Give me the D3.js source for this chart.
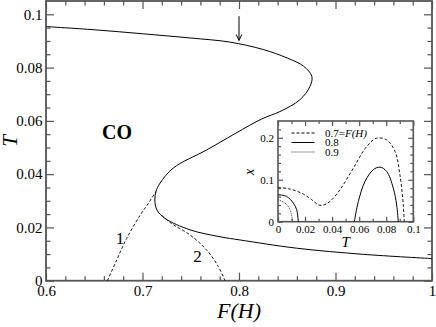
<!DOCTYPE html>
<html><head><meta charset="utf-8">
<script src="https://cdn.jsdelivr.net/npm/d3@7"></script>
<style>body{margin:0}</style></head>
<body>
<svg id="c" width="436" height="327"></svg>
<script>
// ---- Main plot data: F(H) vs T ----
const mainF = [0.6, 0.65, 0.70, 0.75, 0.79, 0.825, 0.85, 0.867, 0.8755, 0.8735, 0.863, 0.8425, 0.8235, 0.7665, 0.7319, 0.7181, 0.7140, 0.7128, 0.7150, 0.7233, 0.7492, 0.7803, 0.801, 0.8597, 0.9288, 1.0];
const mainT = [0.0954, 0.0942, 0.0927, 0.0911, 0.0896, 0.0868, 0.0836, 0.0805, 0.0767, 0.0729, 0.0679, 0.0635, 0.0607, 0.0491, 0.0423, 0.0366, 0.0335, 0.0303, 0.0265, 0.0234, 0.0191, 0.0165, 0.0153, 0.0122, 0.0099, 0.0083];
const line1F = [0.6636, 0.6733, 0.6836, 0.6974, 0.7060, 0.7140];
const line1T = [0.0, 0.0078, 0.0159, 0.0245, 0.0290, 0.0335];
const line2F = [0.7200, 0.7300, 0.7492, 0.7665, 0.7786, 0.7855];
const line2T = [0.0245, 0.0215, 0.0172, 0.0115, 0.0053, 0.0];
const xTicks = [0.6, 0.7, 0.8, 0.9, 1.0];
const xTickLabels = ["0.6", "0.7", "0.8", "0.9", "1"];
const yTicks = [0, 0.02, 0.04, 0.06, 0.08, 0.1];
const yTickLabels = ["0", "0.02", "0.04", "0.06", "0.08", "0.1"];

// ---- Inset data: T vs x ----
const in07T = [0.0, 0.0089, 0.0187, 0.0249, 0.0300, 0.0335, 0.0384, 0.0458, 0.0557, 0.0655, 0.0729, 0.0803, 0.0865, 0.0901, 0.0926, 0.0933];
const in07X = [0.0817, 0.0778, 0.0659, 0.0524, 0.0400, 0.0395, 0.0484, 0.0762, 0.1278, 0.1790, 0.1990, 0.1950, 0.1675, 0.1120, 0.0405, 0.0];
const in08aT = [0.0, 0.0064, 0.0113, 0.0138, 0.0150];
const in08aX = [0.0643, 0.0603, 0.0444, 0.0286, 0.0];
const in08bT = [0.0564, 0.0594, 0.0643, 0.0704, 0.0754, 0.0803, 0.0852, 0.0877, 0.0889];
const in08bX = [0.0, 0.0484, 0.0960, 0.1238, 0.1300, 0.1200, 0.0800, 0.0400, 0.0];
const in09T = [0.0, 0.0052, 0.0089, 0.0108];
const in09X = [0.0524, 0.0444, 0.0286, 0.0];
const inXTicks = [0, 0.02, 0.04, 0.06, 0.08, 0.1];
const inXTickLabels = ["0", "0.02", "0.04", "0.06", "0.08", "0.1"];
const inYTicks = [0, 0.1, 0.2];
const inYTickLabels = ["0", "0.1", "0.2"];
const legendLabels = ["0.7=", "0.8", "0.9"];

const svg = d3.select("#c");
const frameColor = "#555";
const SERIF = "Liberation Serif";

const L = 46, R = 432, T0 = 1, B = 280.7;
const x = d3.scaleLinear().domain([0.6, 1.0]).range([L, R]);
const y = d3.scaleLinear().domain([0, 0.105]).range([B, T0]);

function styleAxis(g) {
  g.attr("font-family", SERIF);
  g.select(".domain").remove();
  g.selectAll(".tick line").attr("stroke", frameColor).attr("stroke-width", 1.2);
  g.selectAll("text").attr("font-family", SERIF);
}

const xMinor = d3.range(0.62, 1.0, 0.02).filter(v => Math.abs(v*10 - Math.round(v*10)) > 1e-6);
const yMinor = d3.range(0.005, 0.105, 0.005).filter(v => Math.abs(v*50 - Math.round(v*50)) > 1e-6);

const gMain = svg.append("g");
gMain.append("g").attr("transform", `translate(0,${B})`)
  .call(d3.axisBottom(x).tickValues(xTicks).tickFormat((d,i)=>xTickLabels[i]).tickSize(-8).tickPadding(4.7))
  .call(styleAxis).call(g=>g.selectAll("text").attr("font-size",15).attr("fill","#000"));
gMain.append("g").attr("transform", `translate(0,${B})`)
  .call(d3.axisBottom(x).tickValues(xMinor).tickFormat("").tickSize(-4.5)).call(styleAxis);
gMain.append("g").attr("transform", `translate(0,${T0})`)
  .call(d3.axisTop(x).tickValues(xTicks).tickFormat("").tickSize(-8)).call(styleAxis);
gMain.append("g").attr("transform", `translate(0,${T0})`)
  .call(d3.axisTop(x).tickValues(xMinor).tickFormat("").tickSize(-4.5)).call(styleAxis);
gMain.append("g").attr("transform", `translate(${L},0)`)
  .call(d3.axisLeft(y).tickValues(yTicks).tickFormat((d,i)=>yTickLabels[i]).tickSize(-8).tickPadding(3.5))
  .call(styleAxis).call(g=>g.selectAll("text").attr("font-size",15).attr("fill","#000"));
gMain.append("g").attr("transform", `translate(${L},0)`)
  .call(d3.axisLeft(y).tickValues(yMinor).tickFormat("").tickSize(-4.5)).call(styleAxis);
gMain.append("g").attr("transform", `translate(${R},0)`)
  .call(d3.axisRight(y).tickValues(yTicks).tickFormat("").tickSize(-8)).call(styleAxis);
gMain.append("g").attr("transform", `translate(${R},0)`)
  .call(d3.axisRight(y).tickValues(yMinor).tickFormat("").tickSize(-4.5)).call(styleAxis);

svg.append("rect").attr("x", L).attr("y", T0).attr("width", R-L).attr("height", B-T0)
  .attr("fill","none").attr("stroke", frameColor).attr("stroke-width", 1.8);

const lineMain = d3.line().curve(d3.curveCatmullRom.alpha(0.5)).x(d=>x(d[0])).y(d=>y(d[1]));
svg.append("path").datum(mainF.map((f,i)=>[f, mainT[i]])).attr("d", lineMain)
  .attr("fill","none").attr("stroke","#000").attr("stroke-width",1);
svg.append("path").datum(line1F.map((f,i)=>[f, line1T[i]])).attr("d", lineMain)
  .attr("fill","none").attr("stroke","#000").attr("stroke-width",0.9).attr("stroke-dasharray","3,2");
svg.append("path").datum(line2F.map((f,i)=>[f, line2T[i]])).attr("d", lineMain)
  .attr("fill","none").attr("stroke","#000").attr("stroke-width",0.9).attr("stroke-dasharray","3,2");

const ax = x(0.8), ay1 = y(0.0993), ay2 = y(0.0902);
svg.append("line").attr("x1",ax).attr("x2",ax).attr("y1",ay1).attr("y2",ay2).attr("stroke","#000").attr("stroke-width",1);
svg.append("path").attr("d",`M${ax-2.8},${ay2-6}L${ax},${ay2}L${ax+2.8},${ay2-6}`).attr("fill","none").attr("stroke","#000").attr("stroke-width",1);

function txt(xp, yp, s, size, opts = {}) {
  const t = svg.append("text").attr("x", xp).attr("y", yp).attr("font-family", SERIF)
    .attr("font-size", size).attr("text-anchor", opts.anchor || "middle").attr("fill", "#000").text(s);
  if (opts.bold) t.attr("font-weight", "bold");
  if (opts.italic) t.attr("font-style", "italic");
  if (opts.transform) t.attr("transform", opts.transform).attr("x", 0).attr("y", 0);
  return t;
}
txt(117, 139.3, "CO", 20, {bold: true});
txt(120, 244, "1", 17);
txt(197.5, 261.7, "2", 17);
txt((L+R)/2, 318, "F(H)", 22, {italic: true});
txt(0, 0, "T", 21, {italic: true, transform: `translate(17,${(T0+B)/2}) rotate(-90)`});

// ---- Inset ----
const iL = 278, iR = 413.3, iT = 121, iB = 221.7;
const ix = d3.scaleLinear().domain([0, 0.1]).range([iL, iR]);
const iy = d3.scaleLinear().domain([0, 0.24]).range([iB, iT]);
svg.append("rect").attr("x",iL).attr("y",iT).attr("width",iR-iL).attr("height",iB-iT).attr("fill","#fff");
const ixMinor = d3.range(0.01, 0.1, 0.02);
const iyMinor = d3.range(0.02, 0.24, 0.02).filter(v => Math.abs(v*10 - Math.round(v*10)) > 1e-6);
const gIn = svg.append("g");
gIn.append("g").attr("transform",`translate(0,${iB})`)
  .call(d3.axisBottom(ix).tickValues(inXTicks).tickFormat((d,i)=>inXTickLabels[i]).tickSize(-5).tickPadding(3.8))
  .call(styleAxis).call(g=>g.selectAll("text").attr("font-size",11).attr("fill","#000"));
gIn.append("g").attr("transform",`translate(0,${iB})`)
  .call(d3.axisBottom(ix).tickValues(ixMinor).tickFormat("").tickSize(-3)).call(styleAxis);
gIn.append("g").attr("transform",`translate(0,${iT})`)
  .call(d3.axisTop(ix).tickValues(inXTicks).tickFormat("").tickSize(-5)).call(styleAxis);
gIn.append("g").attr("transform",`translate(0,${iT})`)
  .call(d3.axisTop(ix).tickValues(ixMinor).tickFormat("").tickSize(-3)).call(styleAxis);
gIn.append("g").attr("transform",`translate(${iL},0)`)
  .call(d3.axisLeft(iy).tickValues(inYTicks).tickFormat((d,i)=>inYTickLabels[i]).tickSize(-5).tickPadding(4))
  .call(styleAxis).call(g=>g.selectAll("text").attr("font-size",11).attr("fill","#000"));
gIn.append("g").attr("transform",`translate(${iL},0)`)
  .call(d3.axisLeft(iy).tickValues(iyMinor).tickFormat("").tickSize(-3)).call(styleAxis);
gIn.append("g").attr("transform",`translate(${iR},0)`)
  .call(d3.axisRight(iy).tickValues(inYTicks).tickFormat("").tickSize(-5)).call(styleAxis);
gIn.append("g").attr("transform",`translate(${iR},0)`)
  .call(d3.axisRight(iy).tickValues(iyMinor).tickFormat("").tickSize(-3)).call(styleAxis);
svg.append("rect").attr("x",iL).attr("y",iT).attr("width",iR-iL).attr("height",iB-iT)
  .attr("fill","none").attr("stroke",frameColor).attr("stroke-width",1.6);

const lineIn = d3.line().curve(d3.curveCatmullRom.alpha(0.5)).x(d=>ix(d[0])).y(d=>iy(d[1]));
function inPath(ts, xs, dash, w) {
  svg.append("path").datum(ts.map((t,i)=>[t, xs[i]])).attr("d", lineIn)
    .attr("fill","none").attr("stroke","#000").attr("stroke-width",w).attr("stroke-dasharray",dash);
}
inPath(in07T, in07X, "3,2", 0.9);
inPath(in08aT, in08aX, null, 1);
inPath(in08bT, in08bX, null, 1);
inPath(in09T, in09X, "1,1", 0.8);

txt(345.7, 246.5, "T", 15, {italic: true});
txt(0, 0, "x", 14, {italic: true, transform: `translate(253.5,172) rotate(-90)`});

const legY = [133, 142.5, 152];
const legDash = ["3,2", null, "1,1"];
legY.forEach((ly, i) => {
  svg.append("line").attr("x1",291.5).attr("x2",314.5).attr("y1",ly).attr("y2",ly)
    .attr("stroke","#000").attr("stroke-width", i===2?0.8:1).attr("stroke-dasharray", legDash[i]);
  const t = svg.append("text").attr("x",325).attr("y",ly+3.5).attr("font-size",11)
    .attr("font-family", SERIF).attr("fill","#000");
  t.append("tspan").text(legendLabels[i]);
  if (i === 0) t.append("tspan").attr("font-style","italic").text("F(H)");
});
</script>
</body></html>
